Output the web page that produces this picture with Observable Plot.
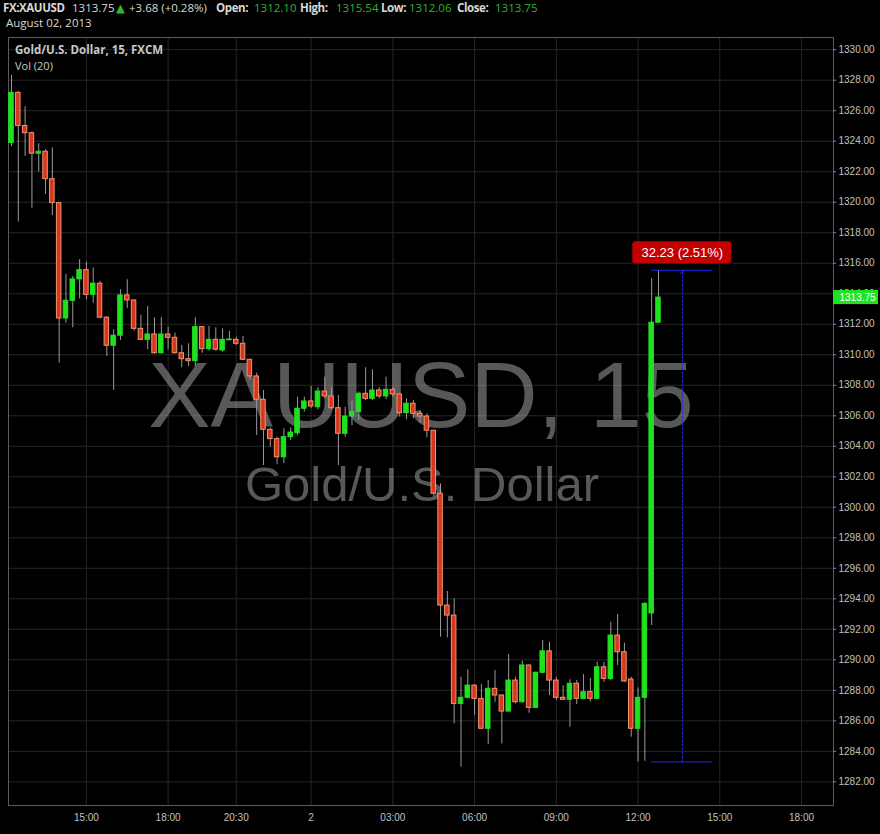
<!DOCTYPE html>
<html>
<head>
<meta charset="utf-8">
<script src="https://cdn.jsdelivr.net/npm/d3@7"></script>
<script src="https://cdn.jsdelivr.net/npm/@observablehq/plot@0.6"></script>
<style>
  html, body { margin: 0; padding: 0; background: #000; }
  #wrap { position: relative; width: 880px; height: 834px; overflow: hidden; background: #000; }
  .t { position: absolute; font-family: "Open Sans", "DejaVu Sans", sans-serif; white-space: pre; line-height: 15px; font-size: 11.5px; color: #d8d8d8; }
  .b { font-weight: bold; letter-spacing: -0.4px; }
  .g { color: #2fb52f; }
  .lbl { position: absolute; font-family: "Open Sans", "DejaVu Sans", sans-serif; white-space: pre; line-height: 13px; font-size: 11px; color: #c8c8c8; }
  .lb { font-weight: bold; font-size: 11.5px; }
  #chart { position: absolute; left: 0; top: 0; }
</style>
</head>
<body>
<div id="wrap">
  <div id="chart"></div>
  <span class="t b" style="left:3px;top:0px">FX:XAUUSD</span>
  <span class="t" style="left:72px;top:0px">1313.75</span>
  <span class="t g" style="left:116px;top:0px">▲</span>
  <span class="t" style="left:129px;top:0px">+3.68 (+0.28%)</span>
  <span class="t b" style="left:216px;top:0px">Open:</span>
  <span class="t g" style="left:254px;top:0px">1312.10</span>
  <span class="t b" style="left:300px;top:0px">High:</span>
  <span class="t g" style="left:336px;top:0px">1315.54</span>
  <span class="t b" style="left:381px;top:0px">Low:</span>
  <span class="t g" style="left:409px;top:0px">1312.06</span>
  <span class="t b" style="left:457px;top:0px">Close:</span>
  <span class="t g" style="left:495px;top:0px">1313.75</span>
  <span class="t" style="left:6px;top:15px">August 02, 2013</span>
  <span class="lbl lb" style="left:15px;top:43px">Gold/U.S. Dollar, 15, FXCM</span>
  <span class="lbl" style="left:15px;top:59px">Vol (20)</span>
</div>
<script>
// ---- data (15-minute bars, index = bar number) ----
const opens = [
  1323.88,1327.17,1325.00,1324.53,1323.18,1323.31,1321.51,1319.94,1312.38,1313.54,
  1314.94,1315.55,1313.93,1314.66,1312.43,1310.59,1311.25,1313.89,1313.56,1311.70,
  1310.98,1311.33,1310.10,1311.33,1311.11,1310.10,1309.71,1309.58,1311.81,1310.37,
  1310.98,1310.28,1310.95,1310.98,1310.72,1309.67,1308.58,1307.05,1305.08,1304.47,
  1303.28,1304.60,1304.86,1306.46,1306.94,1306.56,1307.59,1307.27,1306.50,1304.82,
  1305.95,1306.24,1307.44,1307.11,1307.66,1307.27,1307.70,1307.40,1306.17,1306.79,
  1306.13,1305.95,1305.02,1300.89,1293.56,1292.90,1287.11,1287.51,1288.31,1287.44,
  1285.48,1288.10,1287.66,1286.61,1288.64,1287.22,1289.63,1286.85,1289.15,1290.56,
  1288.64,1287.51,1287.38,1288.43,1287.44,1287.88,1287.44,1289.51,1288.75,1291.59,
  1290.50,1288.71,1285.48,1287.51,1293.04,1312.10
];
const highs = [
  1328.31,1327.25,1326.26,1324.60,1323.84,1323.44,1323.57,1320.00,1315.27,1315.13,
  1316.23,1316.07,1315.68,1314.81,1312.50,1311.64,1314.26,1314.92,1313.60,1312.58,
  1313.17,1312.43,1312.43,1311.81,1311.42,1310.61,1310.72,1312.43,1311.85,1311.86,
  1311.77,1311.70,1311.53,1311.15,1311.20,1309.70,1308.79,1307.66,1305.21,1304.60,
  1305.15,1305.21,1307.22,1307.22,1307.92,1307.84,1308.53,1307.84,1307.33,1306.56,
  1306.96,1307.55,1309.15,1309.02,1307.84,1308.53,1307.88,1307.44,1307.11,1307.00,
  1306.30,1306.13,1305.05,1301.54,1294.48,1294.00,1288.86,1289.34,1288.35,1288.38,
  1288.64,1289.30,1287.70,1290.35,1288.86,1289.91,1289.65,1289.20,1291.27,1291.15,
  1288.86,1288.31,1288.69,1288.64,1289.04,1288.79,1289.84,1289.84,1292.47,1292.97,
  1291.09,1288.86,1288.16,1293.75,1314.99,1315.54
];
const lows = [
  1323.64,1318.70,1323.00,1319.61,1321.97,1320.51,1319.13,1309.45,1312.07,1311.77,
  1313.67,1313.61,1313.38,1312.36,1309.89,1307.66,1310.94,1313.02,1311.55,1310.95,
  1310.33,1310.05,1310.05,1310.33,1310.05,1309.15,1309.23,1309.23,1310.10,1310.24,
  1310.24,1310.17,1310.92,1310.61,1309.63,1308.32,1304.71,1302.74,1303.94,1302.81,
  1302.85,1304.38,1304.71,1306.24,1306.46,1306.39,1307.11,1306.39,1302.74,1304.60,
  1305.36,1305.69,1307.00,1307.00,1307.11,1307.05,1307.22,1305.91,1305.74,1305.80,
  1305.52,1304.56,1300.66,1291.48,1291.44,1285.80,1282.96,1287.44,1286.35,1285.45,
  1284.45,1287.22,1284.49,1286.58,1287.11,1287.15,1286.50,1286.82,1289.08,1287.66,
  1287.33,1287.36,1285.58,1287.07,1287.38,1287.22,1287.38,1288.53,1288.64,1289.63,
  1288.51,1284.93,1283.31,1283.35,1292.25,1312.06
];
const closes = [
  1327.17,1325.00,1324.53,1323.18,1323.31,1321.51,1319.94,1312.38,1313.54,1314.94,
  1315.55,1313.93,1314.66,1312.43,1310.59,1311.25,1313.89,1313.56,1311.70,1310.98,
  1311.33,1310.10,1311.33,1311.11,1310.10,1309.71,1309.58,1311.81,1310.37,1310.98,
  1310.33,1310.98,1311.00,1310.72,1309.67,1308.58,1307.05,1305.08,1304.47,1303.28,
  1304.60,1304.90,1306.46,1306.94,1306.61,1307.59,1307.27,1306.50,1304.82,1305.95,
  1306.24,1307.44,1307.11,1307.66,1307.27,1307.70,1307.40,1306.17,1306.79,1306.13,
  1305.95,1305.02,1300.89,1293.56,1292.90,1287.11,1287.51,1288.31,1287.44,1285.48,
  1288.10,1287.66,1286.61,1288.64,1287.22,1289.63,1286.85,1289.15,1290.56,1288.64,
  1287.51,1287.38,1288.43,1287.44,1287.88,1287.44,1289.51,1288.75,1291.59,1290.50,
  1288.58,1285.48,1287.51,1293.67,1312.10,1313.75
];
const yTicks = [1282,1284,1286,1288,1290,1292,1294,1296,1298,1300,1302,1304,1306,
  1308,1310,1312,1314,1316,1318,1320,1322,1324,1326,1328,1330];
const xTickPos = [11, 23, 33, 44, 56, 68, 80, 92, 104, 116];
const xTickLabels = ["15:00","18:00","20:30","2","03:00","06:00","09:00","12:00","15:00","18:00"];
// price-range measurement drawn on the chart
const measureBars = [94, 103];
const measureLow = 1283.31;
const measureHigh = 1315.54;
const lastPrice = 1313.75;
const watermark = ["XAUUSD, 15", "Gold/U.S. Dollar"];

// ---- build ----
const candles = opens.map((o, i) => ({i, open: o, high: highs[i], low: lows[i], close: closes[i]}));
const up = d => d.close >= d.open;
const xDomain = [-0.44, 120.7];
const xMax = xDomain[1];
const measure = [{
  x1: measureBars[0], x2: measureBars[1], mid: (measureBars[0] + measureBars[1]) / 2,
  low: measureLow, high: measureHigh,
  label: `${(measureHigh - measureLow).toFixed(2)} (${((measureHigh - measureLow) / measureLow * 100).toFixed(2)}%)`
}];
const xTicks = xTickPos.map((p, k) => ({p, label: xTickLabels[k]}));
const gridC = "#262626";

const chart = Plot.plot({
  width: 880, height: 834,
  marginLeft: 8, marginRight: 47, marginTop: 37, marginBottom: 29,
  style: {background: "#000", color: "#bdbdbd", fontFamily: "'Liberation Sans', Arial, sans-serif", fontSize: "10px", overflow: "visible"},
  x: {type: "linear", domain: xDomain, axis: null},
  y: {type: "linear", domain: [1280.45, 1330.8], axis: null},
  color: {type: "identity"},
  marks: [
    Plot.ruleY(yTicks, {y: d => d, stroke: gridC, strokeWidth: 1}),
    Plot.ruleX(xTickPos, {x: d => d, stroke: gridC, strokeWidth: 1}),
    Plot.frame({stroke: "#5c5c5c"}),
    // watermark
    Plot.text([watermark[0]], {frameAnchor: "middle", text: d => d, dy: -24, fontSize: 93.5, fill: "#a0a0a0", fillOpacity: 0.55, fontFamily: "'Liberation Sans', Arial, sans-serif"}),
    Plot.text([watermark[1]], {frameAnchor: "middle", text: d => d, dx: 1, dy: 64, fontSize: 49, fill: "#a0a0a0", fillOpacity: 0.55, fontFamily: "'Liberation Sans', Arial, sans-serif"}),
    // wicks
    Plot.ruleX(candles, {x: "i", y1: "low", y2: "high", stroke: "#9a9a9a", strokeWidth: 1}),
    // bodies
    Plot.rect(candles, {
      x1: d => d.i - 0.33, x2: d => d.i + 0.33, y1: "open", y2: "close",
      fill: d => up(d) ? "#1fe21f" : "#d8351f",
      stroke: d => up(d) ? "#1fe21f" : "#f0956c",
      strokeWidth: 1
    }),
    // measurement tool
    Plot.ruleY(measure, {x1: "x1", x2: "x2", y: "high", stroke: "#2323ff", strokeWidth: 1}),
    Plot.ruleY(measure, {x1: "x1", x2: "x2", y: "low", stroke: "#2323ff", strokeWidth: 1}),
    Plot.arrow(measure, {x1: "mid", x2: "mid", y1: "low", y2: "high", stroke: "#2323ff", strokeWidth: 1, strokeDasharray: "2,2", headLength: 6}),
    Plot.rect(measure, {x1: "mid", x2: "mid", y1: "high", y2: "high", insetLeft: -49.5, insetRight: -49.5, insetTop: -11, insetBottom: -11, dy: -17.5, fill: "#c40000", rx: 3}),
    Plot.text(measure, {x: "mid", y: "high", text: "label", dy: -17.5, fill: "#ffffff", fontSize: 13}),
    // y axis ticks and labels
    Plot.ruleY(yTicks, {y: d => d, x1: xMax, x2: xMax + 0.45, stroke: "#888", strokeWidth: 1}),
    Plot.text(yTicks, {y: d => d, frameAnchor: "right", text: d => d.toFixed(2), textAnchor: "start", dx: 5, fill: "#c0c0c0", fontSize: 10}),
    // current price label
    Plot.rect([lastPrice], {x1: xMax, x2: xMax, y1: d => d, y2: d => d, insetLeft: 0, insetRight: -45, insetTop: -7, insetBottom: -7, fill: "#1ee61e"}),
    Plot.text([lastPrice], {y: d => d, frameAnchor: "right", text: d => d.toFixed(2), textAnchor: "start", dx: 6, fill: "#ffffff", fontSize: 10}),
    // x axis labels
    Plot.text(xTicks, {x: "p", frameAnchor: "bottom", text: "label", dy: 15, fill: "#c0c0c0", fontSize: 10})
  ]
});
document.getElementById("chart").appendChild(chart);
</script>
</body>
</html>
